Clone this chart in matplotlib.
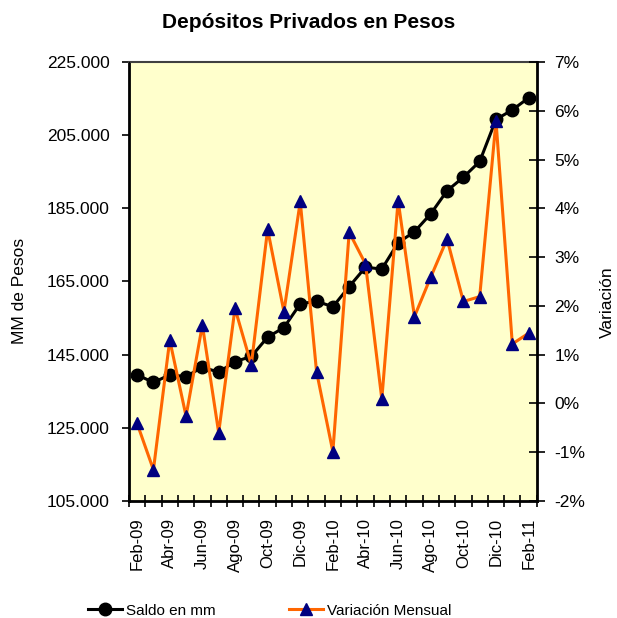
import matplotlib
matplotlib.use("Agg")
import matplotlib.pyplot as plt
from matplotlib.ticker import FuncFormatter
from matplotlib.lines import Line2D

plt.rcParams['font.family'] = ['Liberation Sans', 'DejaVu Sans']

months = ["Feb-09", "Mar-09", "Abr-09", "May-09", "Jun-09", "Jul-09", "Ago-09", "Sep-09",
          "Oct-09", "Nov-09", "Dic-09", "Ene-10", "Feb-10", "Mar-10", "Abr-10", "May-10",
          "Jun-10", "Jul-10", "Ago-10", "Sep-10", "Oct-10", "Nov-10", "Dic-10", "Ene-11",
          "Feb-11"]
saldo = [139500, 137400, 139500, 139000, 141600, 140200, 143100, 144500,
         149800, 152400, 158900, 159600, 158100, 163600, 168900, 168400,
         175600, 178600, 183500, 189800, 193500, 197800, 209300, 211900,
         215200]
variacion = [-0.41, -1.36, 1.30, -0.26, 1.61, -0.60, 1.95, 0.79,
             3.57, 1.88, 4.14, 0.65, -0.99, 3.51, 2.86, 0.09,
             4.16, 1.78, 2.59, 3.37, 2.09, 2.19, 5.79, 1.22,
             1.44]
left_ticks = [105000, 125000, 145000, 165000, 185000, 205000, 225000]
right_ticks = [-2, -1, 0, 1, 2, 3, 4, 5, 6, 7]

fig = plt.figure(figsize=(6.17, 6.18), dpi=100)
ax = fig.add_axes([0.209, 0.1893, 0.661, 0.7104])
ax.set_facecolor('#FFFFCC')
x = list(range(len(months)))

ax.plot(x, saldo, color='black', lw=2.2, marker='o', ms=9, zorder=3)
ax.set_ylim(left_ticks[0], left_ticks[-1])
ax.set_yticks(left_ticks)
ax.yaxis.set_major_formatter(FuncFormatter(lambda v, p: f"{int(v):,}".replace(",", ".")))
ax.set_xlim(-0.5, len(months) - 0.5)
ax.set_xticks(x[::2])
ax.set_xticklabels(months[::2], rotation=90)
ax.tick_params(axis='x', length=0, pad=12, labelsize=12)
ax.set_xticks([i - 0.5 for i in range(len(months) + 1)], minor=True)
ax.tick_params(axis='x', which='minor', length=8, width=1.2, direction='inout')
ax.tick_params(axis='y', length=5, width=1.2, direction='out', labelsize=12.5, pad=9)
ax.set_ylabel("MM de Pesos", fontsize=12.5)
ax.yaxis.set_label_coords(-0.25, 0.4795)
for s in ['left', 'bottom']:
    ax.spines[s].set_linewidth(2)
ax.spines['top'].set_linewidth(1.5)
ax.spines['top'].set_color('#404040')

ax2 = ax.twinx()
ax2.plot(x, variacion, color='#FF6600', lw=2.2, marker='^', ms=9,
         markerfacecolor='#000080', markeredgecolor='#000080', zorder=4)
ax2.set_ylim(right_ticks[0], right_ticks[-1])
ax2.set_yticks(right_ticks)
ax2.yaxis.set_major_formatter(FuncFormatter(lambda v, p: f"{int(round(v))}%"))
ax2.tick_params(axis='y', length=11, width=1.2, direction='inout', labelsize=12.5, pad=7)
ax2.set_ylabel("Variación", fontsize=12.5)
ax2.yaxis.set_label_coords(1.155, 0.453)
ax2.spines['right'].set_linewidth(2)
ax2.spines['top'].set_visible(False)

fig.text(0.501, 0.963, "Depósitos Privados en Pesos", ha='center', va='center',
         fontsize=15, fontweight='bold')

h1 = Line2D([], [], color='black', lw=2.2, marker='o', ms=9)
h2 = Line2D([], [], color='#FF6600', lw=2.2, marker='^', ms=9,
            markerfacecolor='#000080', markeredgecolor='#000080')
fig.legend([h1, h2], ["Saldo en mm", "Variación Mensual"], loc='center',
           bbox_to_anchor=(0.4376, 0.012), ncol=2, frameon=False, fontsize=11,
           handlelength=2.2, handletextpad=0.3, columnspacing=4.8, borderpad=0)

fig.savefig("out.png", dpi=100)
